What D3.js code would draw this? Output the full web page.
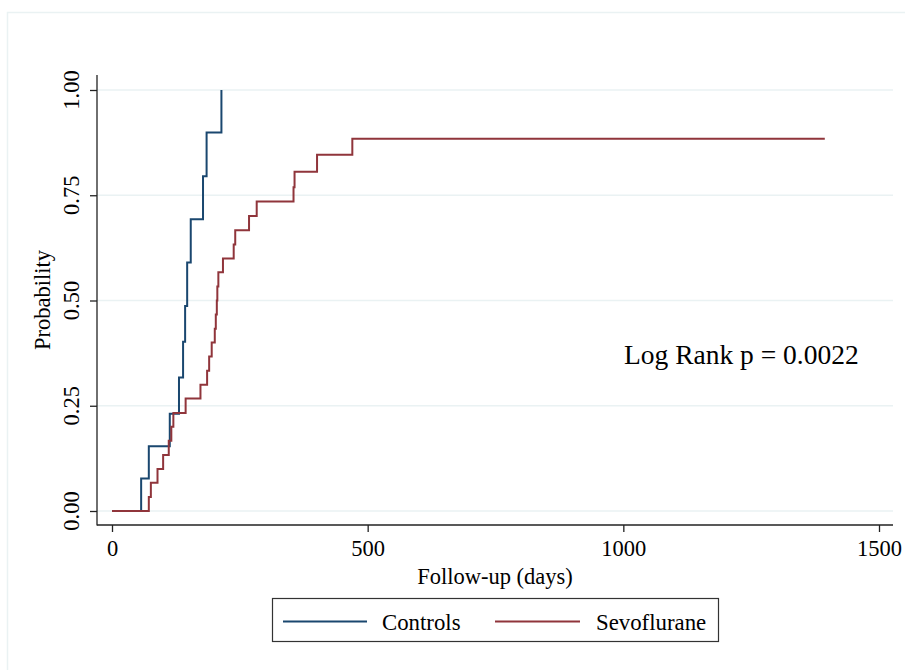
<!DOCTYPE html>
<html>
<head>
<meta charset="utf-8">
<script src="https://cdn.jsdelivr.net/npm/d3@7"></script>
<style>
  html, body { margin: 0; padding: 0; background: #fff; }
  svg { display: block; }
  text { font-family: "Liberation Serif", "Times New Roman", serif; fill: #000; }
</style>
</head>
<body>
<svg id="chart" width="905" height="670"></svg>
<script>
// ---- Data ----
const seriesNames = ["Controls", "Sevoflurane"];
const seriesColors = ["#1a476f", "#90353b"];
// Controls: event times (days) and cumulative probability
const controlsDays = [0, 57, 72, 113, 131, 139, 143, 147, 154, 178, 185, 214];
const controlsProb = [0, 0.077, 0.154, 0.231, 0.317, 0.402, 0.487, 0.590, 0.693, 0.795, 0.899, 1.0];
// Sevoflurane
const sevoDays = [0, 72, 76, 89, 100, 111, 116, 120, 144, 173, 186, 190, 195, 201, 203, 205, 206, 208, 217, 238, 241, 268, 283, 355, 357, 401, 470, 1394];
const sevoProb = [0, 0.033, 0.067, 0.100, 0.133, 0.167, 0.200, 0.233, 0.267, 0.300, 0.333, 0.367, 0.400, 0.433, 0.467, 0.500, 0.533, 0.567, 0.600, 0.633, 0.667, 0.701, 0.735, 0.769, 0.806, 0.846, 0.884, 0.884];
const xTicks = [0, 500, 1000, 1500];
const yTicks = [0, 0.25, 0.5, 0.75, 1.0];
const yTickLabels = ["0.00", "0.25", "0.50", "0.75", "1.00"];
const annotation = "Log Rank p = 0.0022";
const xTitle = "Follow-up (days)";
const yTitle = "Probability";

// ---- Drawing ----
const svg = d3.select("#chart");
const x = d3.scaleLinear().domain([0, 1500]).range([112, 879]);
const y = d3.scaleLinear().domain([0, 1]).range([511, 90]);
const plotLeft = 97, plotRight = 893, plotBottom = 525, plotTop = 75;
const gridColor = "#eaf2f3";

// outer frame (cropped on right/bottom)
svg.append("rect").attr("x", 7.5).attr("y", 12.5).attr("width", 1000).attr("height", 1000)
  .attr("fill", "none").attr("stroke", gridColor).attr("stroke-width", 1.5);

// gridlines
svg.append("g").selectAll("line").data(yTicks).join("line")
  .attr("x1", plotLeft).attr("x2", plotRight)
  .attr("y1", d => y(d)).attr("y2", d => y(d))
  .attr("stroke", gridColor).attr("stroke-width", 1.6);

// axes
const yAxis = d3.axisLeft(y).tickValues(yTicks).tickSize(7).tickPadding(0).tickFormat((d, i) => yTickLabels[i]);
const gy = svg.append("g").attr("transform", `translate(${plotLeft},0)`).call(yAxis);
gy.select(".domain").remove();
gy.selectAll(".tick line").attr("stroke", "#222").attr("stroke-width", 1.3);
gy.selectAll(".tick text").remove();
svg.append("line").attr("x1", plotLeft).attr("x2", plotLeft).attr("y1", plotTop).attr("y2", plotBottom + 0.5)
  .attr("stroke", "#222").attr("stroke-width", 1.3);
svg.append("g").selectAll("text").data(yTicks).join("text")
  .attr("transform", d => `translate(78.5,${y(d)}) rotate(-90)`)
  .attr("text-anchor", "middle")
  .style("font-size", "22.5px")
  .text((d, i) => yTickLabels[i]);

const xAxis = d3.axisBottom(x).tickValues(xTicks).tickSize(7).tickPadding(0).tickFormat(d3.format("d"));
const gx = svg.append("g").attr("transform", `translate(0,${plotBottom})`).call(xAxis);
gx.select(".domain").remove();
gx.selectAll(".tick line").attr("stroke", "#222").attr("stroke-width", 1.3);
gx.selectAll(".tick text").attr("y", 31).attr("dy", null)
  .style("font-size", "22.5px").style("font-family", "Liberation Serif, serif").attr("fill", "#000");
svg.append("line").attr("x1", plotLeft).attr("x2", plotRight).attr("y1", plotBottom).attr("y2", plotBottom)
  .attr("stroke", "#222").attr("stroke-width", 1.3);

// axis titles
svg.append("text").attr("x", 495).attr("y", 584).attr("text-anchor", "middle")
  .style("font-size", "22.5px").text(xTitle);
svg.append("text").attr("transform", "translate(50,300) rotate(-90)").attr("text-anchor", "middle")
  .style("font-size", "22.5px").text(yTitle);

// step lines
const line = d3.line().x(d => x(d[0])).y(d => y(d[1])).curve(d3.curveStepAfter);
const series = [
  d3.zip(controlsDays, controlsProb),
  d3.zip(sevoDays, sevoProb)
];
series.forEach((pts, i) => {
  svg.append("path").datum(pts)
    .attr("d", line)
    .attr("fill", "none")
    .attr("stroke", seriesColors[i])
    .attr("stroke-width", 2);
});

// annotation
svg.append("text").attr("x", 624).attr("y", 364).style("font-size", "27.5px").text(annotation);

// legend
const lg = svg.append("g");
lg.append("rect").attr("x", 272.5).attr("y", 598.5).attr("width", 446).attr("height", 43)
  .attr("fill", "#fff").attr("stroke", "#333").attr("stroke-width", 1.2);
const legendItems = [
  {x1: 283, x2: 367, tx: 382},
  {x1: 495, x2: 580, tx: 596}
];
legendItems.forEach((it, i) => {
  lg.append("line").attr("x1", it.x1).attr("x2", it.x2).attr("y1", 621.5).attr("y2", 621.5)
    .attr("stroke", seriesColors[i]).attr("stroke-width", 2);
  lg.append("text").attr("x", it.tx).attr("y", 630).style("font-size", "22.8px").text(seriesNames[i]);
});
</script>
</body>
</html>
